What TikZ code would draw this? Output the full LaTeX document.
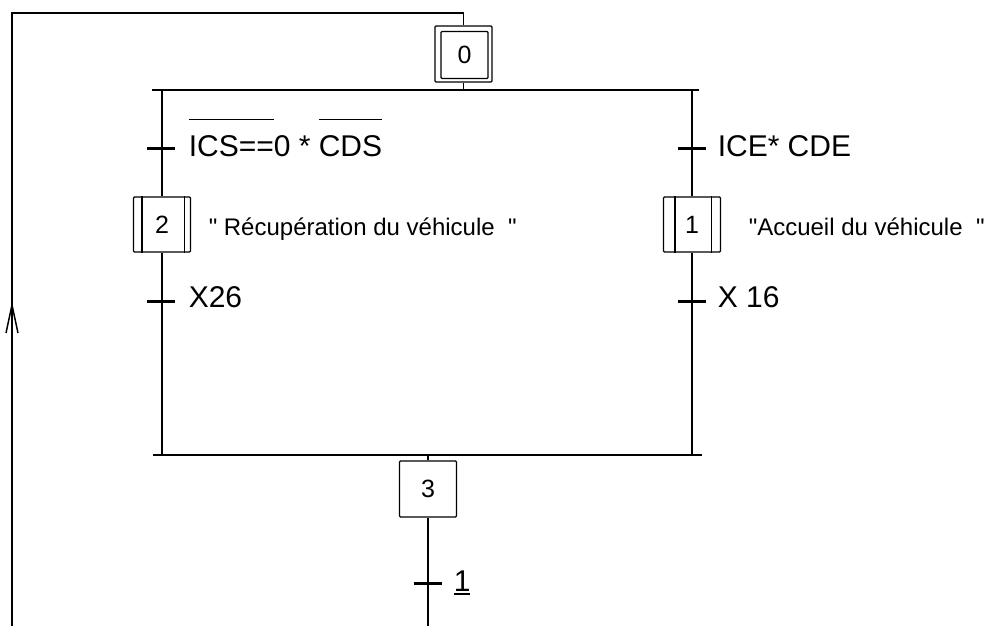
\documentclass[tikz,border=0pt]{standalone}
\usepackage{fontspec}
\setmainfont{Liberation Sans}[Ligatures=TeXOff]
\newsavebox\myboxa
\newcommand\myovl[1]{\sbox\myboxa{#1}\rlap{\rule[1.23em]{\wd\myboxa}{1.5pt}}\usebox\myboxa}
\newcommand\myund[1]{\sbox\myboxa{#1}\rlap{\rule[-3.5pt]{\wd\myboxa}{1.5pt}}\usebox\myboxa}
\begin{document}
\begin{tikzpicture}[x=1pt,y=-1pt, line width=1.5pt,
  stepbox/.style={draw, line width=1.3pt, minimum width=57pt, minimum height=56pt, inner sep=0pt, rounded corners=1pt, font=\fontsize{25}{25}\selectfont},
  innerbox/.style={draw, line width=1.3pt, minimum width=47pt, minimum height=47pt, inner sep=0pt, rounded corners=1pt, font=\fontsize{25}{25}\selectfont},
  lbl/.style={anchor=base west, inner sep=0pt, font=\fontsize{30}{30}\selectfont},
  cmt/.style={anchor=base west, inner sep=0pt, font=\fontsize{24}{24}\selectfont},
  tick/.style={line width=3pt}]
\useasboundingbox (0,0) rectangle (997,626);

% steps
\node[stepbox] (s0) at (463.5,54) {};
\node[innerbox, text depth=-1pt] (s0in) at (464.5,55) {0};
\node[stepbox, minimum height=55pt] (s2) at (162,224.5) {2};
\node[stepbox, minimum height=55pt] (s1) at (692,224.5) {1};
\node[stepbox] (s3) at (428,489) {3};

% macro-step inner sides
\draw[line width=1.3pt] ([xshift=9pt]s2.north west) -- ([xshift=9pt]s2.south west);
\draw[line width=1.3pt] ([xshift=-7pt]s2.north east) -- ([xshift=-7pt]s2.south east);
\draw[line width=1.3pt] ([xshift=12pt]s1.north west) -- ([xshift=12pt]s1.south west);
\draw[line width=1.3pt] ([xshift=-10pt]s1.north east) -- ([xshift=-10pt]s1.south east);

% coordinates
\coordinate (dl) at (152,90);
\coordinate (dr) at (699,90);
\coordinate (cl) at (153,455);
\coordinate (cr) at (702,455);
\coordinate (top) at (463.5,13);
\coordinate (loopb) at (12,626);
\coordinate (endb) at (428,626);
\coordinate (arr) at (12,305);
\coordinate (t2a) at (161,148);
\coordinate (t2b) at (161,301);
\coordinate (t1a) at (691.5,148);
\coordinate (t1b) at (691.5,301);
\coordinate (t3) at (427.5,583);

% loop back
\draw (loopb) |- (top) -- (s0.north);
\draw ([shift={(-6,28)}]arr) -- (arr) -- ([shift={(6,28)}]arr);

% divergence / convergence
\draw (s0.south) -- (s0.south |- dl);
\draw (dl) -- (dr);
\draw (s2.north |- dl) -- (s2.north);
\draw (s1.north |- dl) -- (s1.north);
\draw (s2.south) -- (s2.south |- cl);
\draw (s1.south) -- (s1.south |- cl);
\draw (cl) -- (cr);
\draw (s3.north |- cl) -- (s3.north);
\draw (s3.south) -- (endb);

% transitions
\draw[tick] ([xshift=-14pt]t2a) -- ([xshift=14pt]t2a);
\draw[tick] ([xshift=-14pt]t2b) -- ([xshift=14pt]t2b);
\draw[tick] ([xshift=-14pt]t1a) -- ([xshift=14pt]t1a);
\draw[tick] ([xshift=-14pt]t1b) -- ([xshift=14pt]t1b);
\draw[tick] ([xshift=-14pt]t3) -- ([xshift=14pt]t3);

% labels
\node[lbl] (r2a) at (188,157) {\myovl{ICS==}0 * \myovl{CDS}};
\node[lbl] (r2b) at (188,307) {X26};
\node[lbl] (r1a) at (717,156) {ICE* CDE};
\node[lbl] (r1b) at (717,307) {X 16};
\node[lbl] (r3) at (453,591) {\myund{1}};

% comments
\node[cmt] (c2) at (208,235) {"\ Récupération du véhicule\ \ "};
\node[cmt] (c1) at (748,235) {"Accueil du véhicule\ \ "};
\end{tikzpicture}
\end{document}
